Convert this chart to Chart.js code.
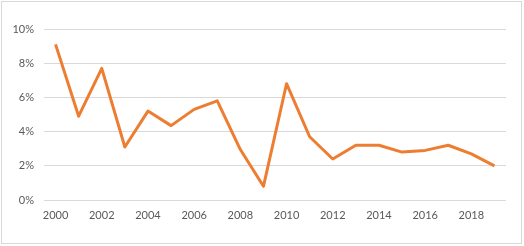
<!DOCTYPE html>
<html>
<head>
<meta charset="utf-8">
<script src="https://cdn.jsdelivr.net/npm/chart.js@4"></script>
<style>
  html, body { margin: 0; padding: 0; background: #fff; }
  #wrap { position: relative; width: 524px; height: 246px; }
  #frame { position: absolute; left: 1px; top: 1px; width: 519px; height: 241px; border: 1px solid #d9d9d9; }
  canvas { position: absolute; left: 0; top: 0; }
</style>
</head>
<body>
<div id="wrap">
  <div id="frame"></div>
  <canvas id="chart" width="524" height="246"></canvas>
</div>
<script>
const years = ["2000","2001","2002","2003","2004","2005","2006","2007","2008","2009",
               "2010","2011","2012","2013","2014","2015","2016","2017","2018","2019"];
const rates = [9.1, 4.9, 7.7, 3.1, 5.2, 4.35, 5.3, 5.8, 2.95, 0.8,
               6.8, 3.7, 2.4, 3.2, 3.2, 2.8, 2.9, 3.2, 2.7, 2.0];

const fontStyle = { family: "Lato, 'Open Sans', sans-serif", size: 11 };

new Chart(document.getElementById('chart'), {
    type: 'line',
    data: {
        labels: years,
        datasets: [{
            data: rates,
            borderColor: '#ED7D31',
            borderWidth: 3,
            pointRadius: 0,
            tension: 0,
            borderJoinStyle: 'round',
            fill: false
        }]
    },
    options: {
        responsive: false,
        animation: false,
        layout: { padding: { top: 29, right: 18, left: 0, bottom: 0 } },
        plugins: {
            legend: { display: false },
            tooltip: { enabled: false }
        },
        scales: {
            x: {
                offset: true,
                grid: { display: false, drawTicks: false },
                border: { display: false },
                ticks: {
                    autoSkip: false,
                    maxRotation: 0,
                    padding: 9,
                    color: '#595959',
                    font: fontStyle,
                    callback: function(v, i) { return i % 2 === 0 ? this.getLabelForValue(v) : ''; }
                },
                afterFit: function(s) { s.height = 46; }
            },
            y: {
                min: 0,
                max: 10,
                grid: { color: '#d9d9d9', lineWidth: 1, drawTicks: false },
                border: { display: false },
                ticks: {
                    stepSize: 2,
                    padding: 10,
                    color: '#595959',
                    font: fontStyle,
                    callback: v => v + '%'
                },
                afterFit: function(s) { s.width = 44; }
            }
        }
    }
});
</script>
</body>
</html>
